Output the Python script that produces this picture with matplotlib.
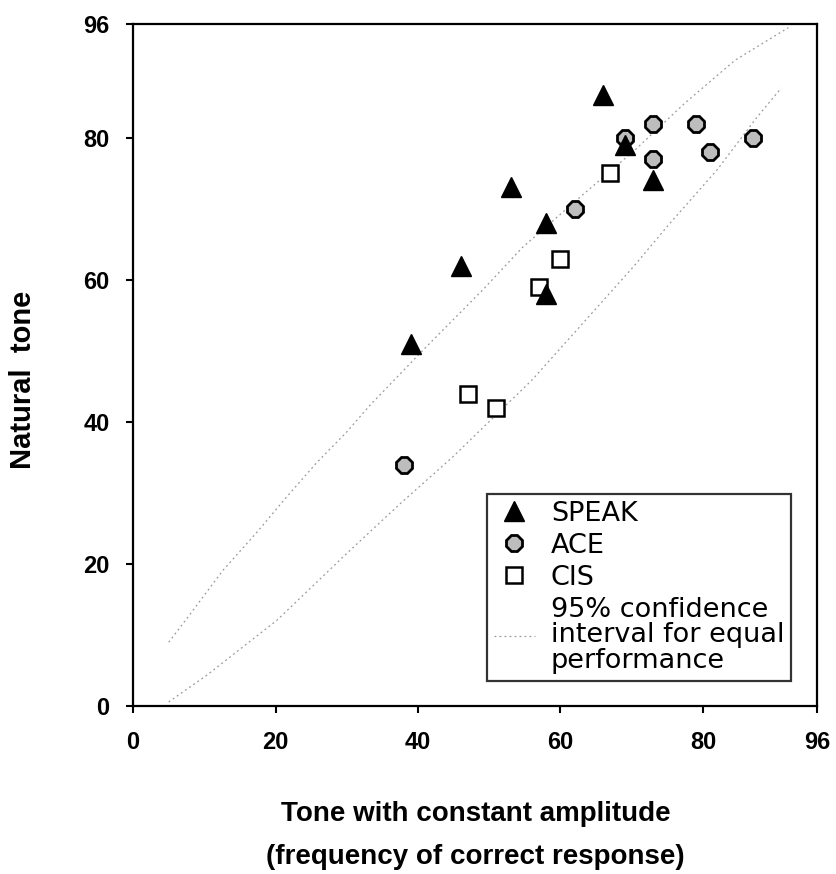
import numpy as np
import matplotlib
matplotlib.use("Agg")
import matplotlib.pyplot as plt

plt.rcParams["font.family"] = ["Liberation Sans", "DejaVu Sans"]

# data
speak_x = [66, 69, 73, 53, 58, 46, 58, 39]
speak_y = [86, 79, 74, 73, 68, 62, 58, 51]

ace_x = [73, 79, 69, 87, 81, 73, 62, 38]
ace_y = [82, 82, 80, 80, 78, 77, 70, 34]

cis_x = [67, 60, 57, 47, 51]
cis_y = [75, 63, 59, 44, 42]

# 95% confidence band for equal performance (traced)
ci_upper_x = [5, 7.6, 12.6, 17.4, 21.6, 25.8, 30, 33.3, 40.7, 49.1, 54.7, 62.7, 70.7, 77.5, 84.5, 92]
ci_upper_y = [9, 12.4, 19.1, 24.5, 29.5, 34.3, 38.6, 42.4, 50.1, 58.6, 64.6, 71.6, 78.5, 84.9, 90.9, 95.5]
ci_lower_x = [5, 10.4, 20.2, 30, 37.5, 44.9, 56, 62.7, 70.2, 75.4, 82, 87.6, 91]
ci_lower_y = [0.6, 4.4, 12.1, 21.5, 28.5, 35.1, 45.9, 53.4, 61.8, 68, 75.5, 82.9, 87]

ticks = [0, 20, 40, 60, 80, 96]

fig = plt.figure(figsize=(8.37, 8.74), dpi=100)
ax = fig.add_axes([0.159, 0.192, 0.817, 0.7805])

ci_style = dict(color="#9a9a9a", linestyle=(0, (1.5, 2.5)), linewidth=0.9)
ax.plot(ci_upper_x, ci_upper_y, **ci_style, label="95% confidence\ninterval for equal\nperformance")
ax.plot(ci_lower_x, ci_lower_y, **ci_style)

ax.plot(speak_x, speak_y, linestyle="none", marker="^", markersize=15,
        color="black", label="SPEAK", zorder=4)
ax.plot(ace_x, ace_y, linestyle="none", marker="8", markersize=12,
        markerfacecolor="#bdbdbd", markeredgecolor="black", markeredgewidth=2,
        label="ACE", zorder=3)
ax.plot(cis_x, cis_y, linestyle="none", marker="s", markersize=11.5,
        markerfacecolor="white", markeredgecolor="black", markeredgewidth=1.8,
        label="CIS", zorder=3)

ax.set_xlim(0, 96)
ax.set_ylim(0, 96)
ax.set_xticks(ticks)
ax.set_yticks(ticks)
ax.tick_params(direction="out", length=5, width=1.5, labelsize=17)
ax.tick_params(axis="x", pad=13)
ax.tick_params(axis="y", pad=12)
for lab in ax.get_xticklabels() + ax.get_yticklabels():
    lab.set_fontweight("bold")
for sp in ax.spines.values():
    sp.set_linewidth(1.6)

fig.text(0.027, 0.565, "Natural  tone", rotation=90, ha="center", va="center",
         fontsize=21, fontweight="bold")

fig.text(0.568, 0.069, "Tone with constant amplitude", ha="center", va="center",
         fontsize=20, fontweight="bold")
fig.text(0.568, 0.02, "(frequency of correct response)", ha="center", va="center",
         fontsize=20, fontweight="bold")

h, l = ax.get_legend_handles_labels()
order = [1, 2, 3, 0]
leg = ax.legend([h[i] for i in order], [l[i] for i in order],
                loc="upper left", bbox_to_anchor=(0.518, 0.311), borderaxespad=0,
                prop={"family": "DejaVu Sans", "size": 19.5},
                frameon=True, fancybox=False, edgecolor="black",
                handlelength=1.5, handletextpad=0.6, labelspacing=0.22,
                borderpad=0.25)
leg.get_frame().set_linewidth(1.6)
for t in leg.get_texts():
    t.set_linespacing(0.98)

fig.savefig("out.png", dpi=100)
